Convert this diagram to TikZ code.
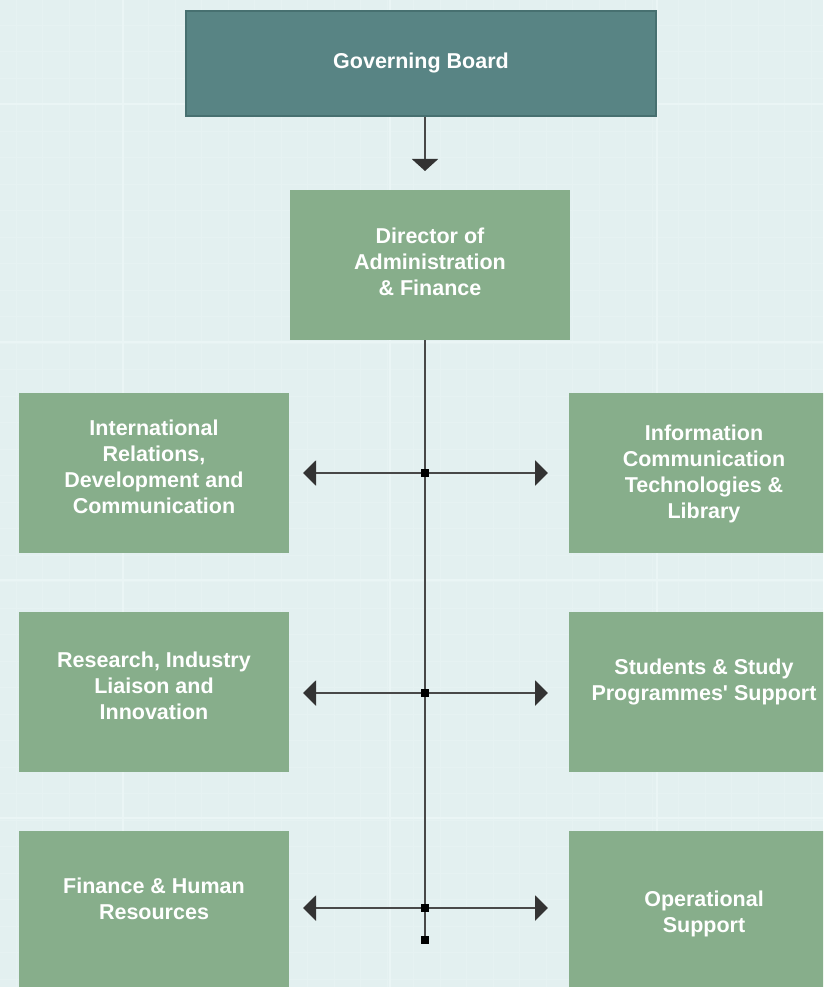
\documentclass[tikz,border=0pt]{standalone}
\usepackage{fontspec}
\setmainfont{Liberation Sans}
\usetikzlibrary{arrows.meta}
\definecolor{bgc}{HTML}{E3F0F0}
\definecolor{gridc}{HTML}{E6F2F2}
\definecolor{gridm}{HTML}{EAF5F5}
\definecolor{boardc}{HTML}{588484}
\definecolor{boardb}{HTML}{477070}
\definecolor{unitc}{HTML}{87AE8B}
\definecolor{linec}{HTML}{484848}
\definecolor{tipc}{HTML}{333333}
\tikzset{
  unitbox/.style={fill=unitc, draw=none, minimum width=270pt, minimum height=160pt, inner sep=0pt, anchor=north west},
  txt/.style={text=white, font=\fontsize{21.5}{26}\selectfont\bfseries, align=center, inner sep=0pt},
  conn/.style={draw=linec, line width=2.2pt},
  arr/.style={conn, -{Triangle[length=13pt,width=25pt,fill=tipc,color=tipc]}},
  sq/.style={fill=black, draw=none, minimum size=8.5pt, inner sep=0pt}
}
\begin{document}
\begin{tikzpicture}[x=1pt,y=-1pt]
\clip (0,0) rectangle (823,987);
\fill[bgc] (0,0) rectangle (823,987);
% faint grid
\foreach \i in {0,...,31} {
  \draw[gridc, line width=0.7pt] (\i*26.5+16,0) -- (\i*26.5+16,987);
}
\foreach \i in {0,...,38} {
  \draw[gridc, line width=0.7pt] (0,\i*26.5+25) -- (823,\i*26.5+25);
}
\foreach \x in {123,390,657} { \draw[gridm, line width=1.2pt] (\x,0) -- (\x,987); }
\foreach \y in {104,342,580,818} { \draw[gridm, line width=1.2pt] (0,\y) -- (823,\y); }

% top boxes
\node[fill=boardc, draw=boardb, line width=1.5pt, minimum width=470pt, minimum height=105pt, inner sep=0pt,
      txt] (gb) at (421,63.5) {\strut Governing Board};
\node[fill=unitc, minimum width=280pt, minimum height=150pt, inner sep=0pt] (dir) at (430,265) {};
\node[txt] (tdir) at (430,263.8) {\strut Director of\\\strut Administration\\\strut \& Finance};

% unit boxes
\node[unitbox] (L1) at (19,393) {};
\node[unitbox] (R1) at (569,393) {};
\node[unitbox] (L2) at (19,612) {};
\node[unitbox] (R2) at (569,612) {};
\node[unitbox] (L3) at (19,831) {};
\node[unitbox] (R3) at (569,831) {};

\node[txt] (tL1) at (154,469.3) {\strut International\\\strut Relations,\\\strut Development and\\\strut Communication};
\node[txt] (tR1) at (704,474) {\strut Information\\\strut Communication\\\strut Technologies \&\\\strut Library};
\node[txt] (tL2) at (154,687.8) {\strut Research, Industry\\\strut Liaison and\\\strut Innovation};
\node[txt] (tR2) at (704,681.8) {\strut Students \& Study\\\strut Programmes\textquotesingle{} Support};
\node[txt] (tL3) at (154,900.8) {\strut Finance \& Human\\\strut Resources};
\node[txt] (tR3) at (704,913.8) {\strut Operational\\\strut Support};

% junctions
\node[sq] (j1) at (425,473) {};
\node[sq] (j2) at (425,693) {};
\node[sq] (j3) at (425,908) {};
\node[sq] (jend) at (425,940) {};

\coordinate (tipdir) at (425,171);
\coordinate (l1) at (303,473);
\coordinate (r1) at (548,473);
\coordinate (l2) at (303,693);
\coordinate (r2) at (548,693);
\coordinate (l3) at (303,908);
\coordinate (r3) at (548,908);

% connectors
\draw[conn, -{Triangle[length=12pt,width=26pt,fill=tipc,color=tipc]}] (gb.south -| tipdir) -- (tipdir);
\draw[conn] (dir.south -| j1) -- (j1.north);
\draw[conn] (j1.south) -- (j2.north);
\draw[conn] (j2.south) -- (j3.north);
\draw[conn] (j3.south) -- (jend.north);
\draw[arr] (j1.west) -- (l1);
\draw[arr] (j1.east) -- (r1);
\draw[arr] (j2.west) -- (l2);
\draw[arr] (j2.east) -- (r2);
\draw[arr] (j3.west) -- (l3);
\draw[arr] (j3.east) -- (r3);
\end{tikzpicture}
\end{document}
